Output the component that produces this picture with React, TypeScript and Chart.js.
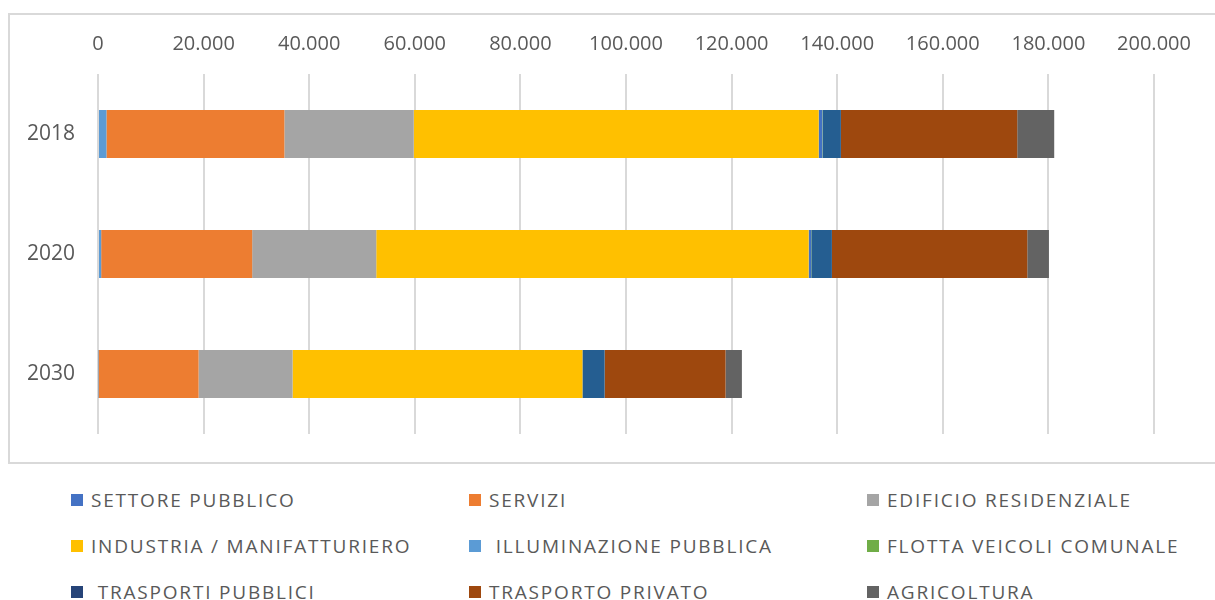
import React, { useEffect, useRef } from "react";
import { Chart, registerables } from "chart.js";

Chart.register(...registerables);

const years = ["2018", "2020", "2030"];
const seriesNames = [
  "SETTORE PUBBLICO",
  "SERVIZI",
  "EDIFICIO RESIDENZIALE",
  "INDUSTRIA / MANIFATTURIERO",
  " ILLUMINAZIONE PUBBLICA",
  "FLOTTA VEICOLI COMUNALE",
  " TRASPORTI PUBBLICI",
  "TRASPORTO PRIVATO",
  "AGRICOLTURA",
];
const settorePubblico = [1600, 600, 100];
const servizi = [33700, 28600, 18950];
const edificioResidenziale = [24500, 23500, 17800];
const industria = [76700, 81900, 54900];
const illuminazionePubblica = [700, 450, 0];
const flottaVeicoli = [100, 50, 0];
const trasportiPubblici = [3400, 3900, 4200];
const trasportoPrivato = [33400, 37000, 22900];
const agricoltura = [7000, 4100, 3100];
const xTickLabels = ["0", "20.000", "40.000", "60.000", "80.000", "100.000", "120.000", "140.000", "160.000", "180.000", "200.000"];

const seriesValues = [
  settorePubblico,
  servizi,
  edificioResidenziale,
  industria,
  illuminazionePubblica,
  flottaVeicoli,
  trasportiPubblici,
  trasportoPrivato,
  agricoltura,
];
const barColors = ["#5B9BD5", "#ED7D31", "#A5A5A5", "#FFC000", "#4472C4", "#70AD47", "#255E91", "#9E480E", "#636363"];
const legendColors = ["#4472C4", "#ED7D31", "#A5A5A5", "#FFC000", "#5B9BD5", "#70AD47", "#264478", "#9E480E", "#636363"];

const FONT = "'Open Sans', 'Liberation Sans', sans-serif";
const TEXT = "#595959";

export default function App() {
  const ref = useRef<HTMLCanvasElement | null>(null);

  useEffect(() => {
    if (!ref.current) return;
    const chart = new Chart(ref.current, {
      type: "bar",
      data: {
        labels: years,
        datasets: seriesNames.map((name, i) => ({
          label: name,
          data: seriesValues[i],
          backgroundColor: barColors[i],
          borderWidth: 0,
          categoryPercentage: 0.4,
          barPercentage: 1,
        })),
      },
      options: {
        indexAxis: "y",
        responsive: false,
        animation: false,
        devicePixelRatio: 1,
        layout: { padding: { left: 0, right: 61, top: 0, bottom: 46 } },
        plugins: { legend: { display: false }, tooltip: { enabled: false } },
        scales: {
          x: {
            position: "top",
            stacked: true,
            min: 0,
            max: 200000,
            afterFit: (s: any) => {
              s.height = 74;
            },
            ticks: {
              stepSize: 20000,
              color: TEXT,
              font: { family: FONT, size: 20 },
              padding: 18,
              maxRotation: 0,
              callback: (v: any) => xTickLabels[Math.round(Number(v) / 20000)] ?? "",
            },
            grid: { color: "#D9D9D9", lineWidth: 2, drawTicks: false },
            border: { display: false },
          },
          y: {
            stacked: true,
            afterFit: (s: any) => {
              s.width = 98;
            },
            ticks: {
              color: TEXT,
              font: { family: FONT, size: 21 },
              padding: 23,
            },
            grid: { display: false, drawTicks: false },
            border: { display: false },
          },
        },
      },
    });
    return () => chart.destroy();
  }, []);

  return (
    <div style={{ position: "absolute", left: 0, top: 0, width: 1215, height: 600, overflow: "hidden", background: "#fff" }}>
      <div
        style={{
          position: "absolute",
          left: 8,
          top: 13,
          width: 1230,
          height: 447,
          border: "2px solid #D9D9D9",
        }}
      />
      <canvas ref={ref} width={1215} height={480} style={{ position: "absolute", left: 0, top: 0, width: 1215, height: 480 }} />
      {seriesNames.map((name, i) => {
        const col = i % 3;
        const row = Math.floor(i / 3);
        return (
          <div
            key={name}
            style={{
              position: "absolute",
              left: 71 + col * 398,
              top: 500 + row * 46 - 13,
              height: 26,
              display: "flex",
              alignItems: "center",
              fontFamily: FONT,
              fontSize: 19,
              letterSpacing: 1.8,
              color: TEXT,
              whiteSpace: "pre",
            }}
          >
            <span style={{ display: "inline-block", width: 12, height: 12, background: legendColors[i], marginRight: 8 }} />
            <span>{name}</span>
          </div>
        );
      })}
    </div>
  );
}
